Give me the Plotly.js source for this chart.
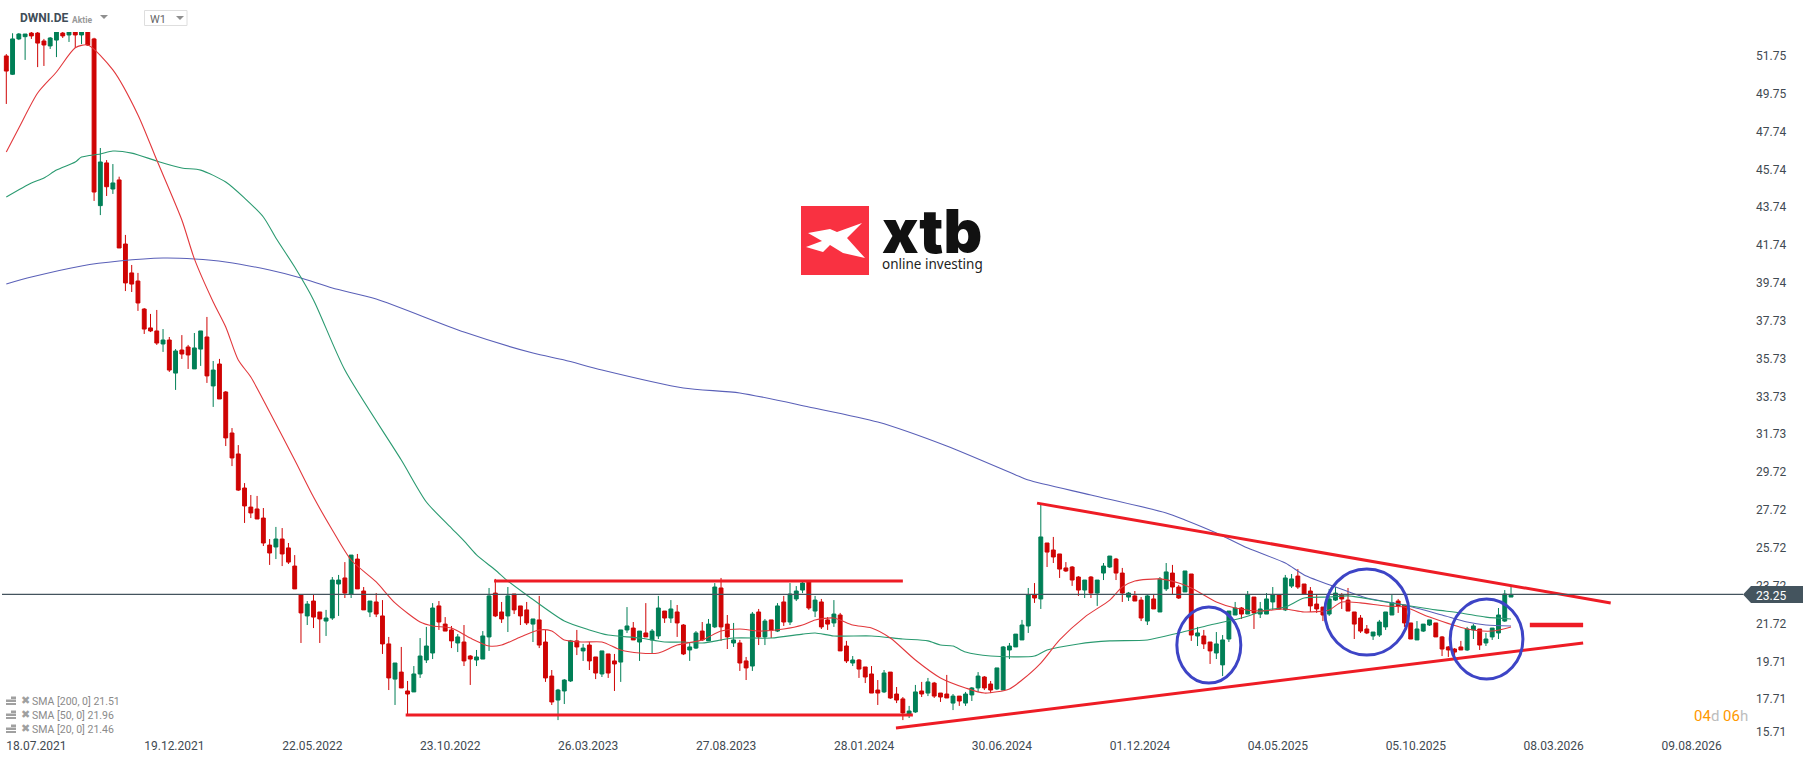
<!DOCTYPE html>
<html>
<head>
<meta charset="utf-8">
<script src="https://cdn.plot.ly/plotly-3.0.1.min.js"></script>
<style>
  html, body { margin: 0; padding: 0; background: #fff; }
  #chart { width: 1815px; height: 761px; }
</style>
</head>
<body>
<div id="chart"></div>
<script>
// weekly candles, one per week from firstWeek on
var firstWeek = Date.UTC(2021, 6, 18);
var lastPrice = 23.25;

var opens = [
  51.74,50.77,52.64,52.76,52.95,52.95,52.53,52.27,52.58,52.95,
  52.85,53.01,52.85,53.10,52.64,43.82,46.08,44.70,45.18,41.79,
  40.26,39.83,38.35,37.35,37.19,36.50,36.71,34.96,36.18,36.34,
  35.18,36.23,36.87,34.28,35.44,33.96,31.79,30.68,28.88,27.87,
  27.77,27.29,25.86,25.76,26.18,25.71,24.75,23.22,22.11,22.90,
  22.32,21.84,22.00,23.80,24.12,23.27,25.12,23.43,22.32,22.85,
  22.11,20.63,18.77,19.14,18.14,18.09,19.04,19.78,20.15,22.64,
  21.68,21.37,20.68,20.73,19.99,19.78,19.83,21.00,23.32,22.32,
  22.11,23.27,22.64,22.43,21.68,21.90,20.73,18.93,17.66,18.14,
  18.67,20.79,20.26,20.57,19.94,19.04,20.10,19.73,19.67,21.37,
  21.47,20.73,21.21,20.84,21.05,22.37,22.00,22.32,21.63,20.31,
  20.41,21.31,20.79,21.53,23.59,21.68,20.68,20.68,19.73,19.46,
  22.32,21.00,21.90,21.31,22.85,21.79,23.01,23.48,23.91,22.37,
  22.85,21.90,21.74,22.16,20.52,19.62,19.78,19.41,19.04,18.19,
  18.09,19.14,17.98,17.72,16.92,17.03,18.14,18.03,18.56,18.03,
  17.98,17.50,17.87,17.50,17.93,18.30,18.88,18.51,18.25,18.19,
  20.31,20.47,20.84,21.58,23.22,23.01,25.97,25.60,25.39,24.65,
  24.70,24.17,23.48,24.17,23.32,24.38,24.70,25.12,24.38,23.11,
  23.17,22.95,21.84,23.01,22.32,23.54,24.38,23.64,23.38,24.33,
  21.05,21.05,20.73,20.15,19.52,20.89,22.16,22.53,22.21,23.11,
  22.21,22.21,22.85,23.22,22.43,23.69,24.22,23.80,23.43,22.74,
  22.58,22.21,22.95,23.22,22.95,22.32,22.00,21.42,21.05,21.10,
  21.53,22.16,22.90,22.69,21.74,20.84,21.31,21.63,21.74,21.00,
  20.47,20.36,20.47,20.31,21.37,21.42,20.68,21.00,21.21,21.84,23.11
];
var highs = [
  51.84,52.94,52.95,52.90,53.10,53.10,52.64,52.74,53.20,53.10,
  53.20,53.20,53.20,53.30,52.70,46.87,46.23,46.02,45.35,42.27,
  40.68,40.26,38.40,38.09,38.30,37.29,36.87,36.23,36.97,36.45,
  37.08,37.19,37.93,35.60,35.71,34.01,32.05,31.15,29.14,28.51,
  28.46,27.82,26.18,26.82,26.76,25.97,25.33,23.25,22.90,23.22,
  22.32,22.43,24.17,24.28,24.96,25.33,25.39,23.64,22.90,23.32,
  22.95,21.00,19.62,20.47,18.67,19.46,20.94,21.53,22.79,22.90,
  22.05,21.58,21.15,21.63,20.04,20.31,21.31,23.59,24.07,22.85,
  23.64,23.27,22.64,22.85,21.95,23.17,21.37,19.25,18.25,18.77,
  20.84,21.37,20.63,20.73,19.94,20.26,20.10,20.10,21.37,22.58,
  21.79,21.31,22.79,21.42,23.17,22.37,22.95,22.69,21.68,20.68,
  21.31,21.79,21.95,23.85,24.12,22.16,21.74,20.84,19.94,22.32,
  22.48,21.95,21.90,22.79,23.17,23.85,23.69,23.96,23.96,23.17,
  23.01,22.05,22.95,22.27,20.79,19.99,19.83,19.41,19.46,18.72,
  19.25,19.14,18.35,17.82,17.35,18.46,18.62,18.83,18.62,18.03,
  18.99,17.98,17.87,18.09,18.35,19.14,18.93,18.67,19.36,20.52,
  20.68,21.15,21.90,23.59,23.85,27.98,25.97,26.29,25.39,24.96,
  24.75,24.22,24.01,24.22,24.01,24.91,25.28,25.18,24.65,23.38,
  23.43,23.11,23.22,23.22,24.17,24.91,24.81,23.75,24.49,24.33,
  21.53,21.37,20.73,21.26,21.10,22.37,22.85,22.58,23.43,23.11,
  22.85,23.32,23.64,23.22,24.28,24.33,24.59,23.80,23.64,23.27,
  22.58,23.54,23.64,23.32,23.59,22.32,22.16,21.63,21.26,21.90,
  22.32,23.22,23.01,22.69,21.74,21.84,21.68,21.90,21.74,21.05,
  20.52,20.41,20.79,21.53,21.68,21.42,21.21,21.47,22.53,23.48,23.64
];
var lows = [
  49.20,50.73,52.58,51.53,52.64,51.15,51.21,52.11,51.68,52.69,
  52.48,52.16,52.37,52.27,44.07,43.32,44.33,44.44,41.58,39.30,
  39.25,38.25,37.03,37.13,36.45,36.08,35.02,34.07,35.71,35.18,
  35.18,35.34,34.44,33.17,33.59,31.10,30.04,28.72,27.03,27.29,
  27.24,25.81,24.81,25.12,24.75,24.86,23.54,20.68,21.63,21.47,
  20.68,21.05,21.90,22.11,23.06,23.06,23.54,22.43,22.05,22.05,
  20.10,18.19,17.40,18.30,16.87,18.09,18.83,19.62,19.83,21.37,
  21.31,20.41,20.20,19.46,18.46,19.46,19.83,20.26,22.05,21.74,
  21.26,22.21,21.63,21.63,20.73,20.41,18.62,17.40,16.60,17.45,
  18.62,20.04,19.73,19.25,18.77,18.88,18.83,18.14,18.62,21.21,
  20.84,19.73,21.00,20.10,20.89,21.74,21.74,21.00,20.04,19.73,
  20.36,20.79,20.79,21.47,20.79,20.36,20.47,19.20,18.72,19.20,
  20.57,20.57,20.94,21.26,21.58,21.63,22.90,23.32,22.43,22.05,
  21.42,21.37,21.53,20.26,19.62,19.46,18.83,18.56,18.03,17.40,
  18.03,17.72,17.50,16.60,16.71,16.98,17.82,17.87,17.77,17.56,
  17.77,17.13,17.35,17.35,17.61,18.09,18.19,18.03,18.19,18.19,
  19.83,20.47,20.84,21.21,22.80,22.48,24.70,24.91,24.12,24.44,
  23.70,23.17,23.06,23.06,22.64,24.01,24.65,24.01,22.85,22.90,
  22.90,21.84,21.63,22.48,22.32,23.43,23.27,23.01,23.38,20.79,
  20.52,20.36,19.57,19.83,18.93,20.73,22.16,21.95,22.21,21.42,
  22.00,22.21,22.43,22.43,22.37,23.59,23.54,23.22,22.32,22.27,
  21.84,22.11,22.90,22.48,22.37,20.89,21.21,21.15,20.84,21.00,
  21.37,22.16,22.27,21.53,20.89,20.84,21.26,21.58,21.00,19.99,
  19.94,19.94,20.31,20.26,20.89,20.31,20.52,20.84,20.89,21.79,23.11
];
var closes = [
  50.94,52.64,52.90,52.90,52.80,52.42,52.32,52.69,53.01,52.80,
  53.01,52.85,53.01,52.32,44.54,46.13,44.82,45.02,41.58,39.73,
  39.67,38.67,37.29,37.19,36.55,36.71,35.12,36.13,35.97,35.92,
  36.29,37.19,34.81,35.12,33.59,31.53,30.47,28.77,27.93,27.56,
  27.24,25.97,25.44,26.18,25.39,24.96,23.54,22.27,22.74,22.05,
  21.95,22.00,24.01,24.01,23.32,25.33,23.54,22.43,22.90,22.21,
  20.63,18.83,19.62,18.30,17.98,19.04,19.99,20.52,22.53,21.79,
  21.31,20.79,21.00,19.73,19.83,19.94,21.05,23.17,22.11,21.95,
  23.17,22.43,22.11,21.74,21.95,20.57,18.83,17.56,18.19,18.72,
  20.79,20.47,20.41,19.73,19.09,20.26,19.09,19.57,21.37,21.58,
  20.84,21.31,21.00,21.31,22.53,22.00,22.48,21.74,20.10,20.47,
  21.21,20.84,21.68,23.64,21.53,21.00,20.84,19.62,19.36,22.21,
  21.00,21.84,21.37,22.64,21.79,23.27,23.43,23.85,22.53,22.95,
  21.53,21.68,22.21,20.26,19.73,19.78,19.30,18.88,18.03,18.03,
  19.09,17.77,17.66,16.98,17.08,18.09,17.98,18.62,17.87,17.82,
  17.77,17.87,17.61,17.98,18.30,18.93,18.30,18.19,19.36,20.47,
  20.52,21.15,21.63,23.22,23.06,26.29,25.49,25.23,24.59,24.49,
  24.01,23.48,24.01,23.32,24.01,24.75,25.28,24.38,23.32,23.32,
  22.90,22.00,23.17,22.48,24.07,24.44,23.64,23.06,24.49,21.10,
  21.21,20.63,20.26,20.63,20.84,22.37,22.53,22.21,23.22,22.27,
  22.48,23.01,23.22,22.48,24.12,24.07,23.64,23.27,22.64,22.48,
  22.16,23.01,23.32,23.01,22.37,21.68,21.31,21.21,21.26,21.79,
  22.32,22.80,22.64,21.74,20.89,21.42,21.68,21.90,21.00,20.36,
  20.31,20.20,20.31,21.42,21.58,20.57,20.89,21.47,22.16,23.27,23.25
];

// moving averages, read at the weeks listed
var sma20Weeks = [0,2,5,8,11,13,17,21,24,28,30,33,35,37,39,42,46,49,52,55,59,62,66,68,71,74,77,79,82,85,87,89,92,95,98,101,104,107,111,114,117,120,124,127,129,132,135,138,141,145,149,153,156,160,162,165,168,172,176,178,180,184,187,189,193,196,200,204,207,211,213,216,220,223,227,233,237,240];
var sma20Values = [46.66,47.93,49.78,50.89,52.17,52.32,51.00,48.62,46.23,43.06,41.00,38.72,37.40,35.65,34.75,32.90,30.36,28.40,26.66,25.07,23.91,22.80,21.79,21.58,21.47,20.94,20.52,20.57,21.00,21.37,21.31,20.84,20.73,20.73,20.31,20.15,20.15,20.57,20.84,21.31,21.42,21.31,21.42,21.63,21.90,22.00,21.63,21.47,20.94,19.78,18.83,18.30,18.03,18.25,18.72,19.62,20.84,22.05,22.95,23.64,23.96,24.07,23.85,23.59,22.85,22.53,22.37,22.48,22.32,22.43,22.85,22.80,22.64,22.58,22.05,21.42,21.31,21.53];

var sma50Weeks = [0,4,6,8,11,12,15,17,20,24,28,31,35,38,41,43,46,49,54,63,67,71,73,75,78,80,83,89,93,96,101,105,108,111,116,122,127,129,132,138,143,147,149,151,153,157,164,166,171,176,182,187,192,197,201,204,207,211,214,220,225,228,232,236,240];
var sma50Values = [44.28,45.02,45.28,45.70,46.13,46.39,46.55,46.71,46.60,46.18,45.81,45.70,45.07,44.22,43.22,42.11,40.57,38.83,35.12,30.36,28.14,26.76,26.08,25.34,24.54,23.96,23.22,21.84,21.37,21.10,20.94,20.73,20.73,20.68,20.94,20.94,21.15,21.21,21.05,21.05,20.89,20.79,20.57,20.52,20.20,19.99,19.99,20.31,20.63,20.79,20.84,21.21,21.63,22.00,22.43,22.58,23.06,23.11,23.17,22.85,22.58,22.43,22.27,22.05,21.95];

var sma200Weeks = [0,4,12,18,25,30,35,42,47,52,59,73,84,89,95,108,117,128,139,150,161,163,173,185,188,193,198,204,207,212,217,223,229,233,236,240];
var sma200Values = [39.67,40.04,40.63,40.89,41.05,41.00,40.84,40.41,39.99,39.46,38.88,37.13,36.02,35.65,35.12,34.17,33.91,33.17,32.37,31.10,29.57,29.30,28.51,27.56,27.19,26.50,25.70,24.91,24.28,23.64,23.06,22.69,22.16,21.79,21.63,21.58];

// drawn trend lines and circles: week number and price
var rangeTopWeeks = [77.8,143], rangeTopPrices = [23.96,23.96];
var rangeBottomWeeks = [63.7,144.6], rangeBottomPrices = [16.87,16.87];
var risingWeeks = [141.9,251.5], risingPrices = [16.18,20.68];
var fallingWeeks = [164.4,255.9], fallingPrices = [28.08,22.80];
var flatWeeks = [243,251.5], flatPrices = [21.63,21.63];
var circleWeeks = [[186.7,196.9],[210.3,223.7],[230.3,241.9]];
var circlePrices = [[22.58,18.56],[24.59,20.04],[23.01,18.77]];

var priceTicks = ['51.75','49.75','47.74','45.74','43.74','41.74','39.74','37.73','35.73','33.73','31.73','29.72','27.72','25.72','23.72','21.72','19.71','17.71'];
var labelWeeks = [0,22,44,66,88,110,132,154,176,198,220,242,264];
var smaLabels = ['SMA [200, 0] 21.51','SMA [50, 0] 21.96','SMA [20, 0] 21.46'];

var UP = '#007f56', DOWN = '#cf0404', DRAWN = '#ee1c25', CIRCLE = '#3d44c6', SLATE = '#44545e', TEXT = '#3f4a52';

// page geometry
var W = 1815, H = 761, M = {l: 2, r: 72, t: 32, b: 24};
function px(x) { return (x - M.l) / (W - M.l - M.r); }
function py(y) { return 1 - (y - M.t) / (H - M.t - M.b); }
function poly(points) {
    return points.map(function(p, i) {
        return (i ? 'L' : 'M') + px(p[0]) + ',' + py(p[1]);
    }).join(' ') + ' Z';
}
function weekDate(k) {
    return new Date(firstWeek + k * 7 * 86400000).toISOString();
}
function label(x, y, text, size, color, extra) {
    var a = {xref: 'paper', yref: 'paper', x: px(x), y: py(y), text: text, showarrow: false,
        xanchor: 'left', yanchor: 'middle', borderpad: 0, font: {family: 'Roboto', size: size, color: color}};
    for (var key in extra) {
        if (key === 'font') {
            for (var f in extra.font) a.font[f] = extra.font[f];
        } else {
            a[key] = extra[key];
        }
    }
    return a;
}

var weeks = opens.map(function(o, i) { return weekDate(i); });

function smaTrace(ks, values, color) {
    return {
        type: 'scatter', mode: 'lines', hoverinfo: 'skip',
        x: ks.map(weekDate), y: values,
        line: {color: color, width: 1.1, shape: 'spline', smoothing: 0.7}
    };
}
function drawnTrace(ks, prices, width) {
    return {
        type: 'scatter', mode: 'lines', hoverinfo: 'skip',
        x: ks.map(weekDate), y: prices,
        line: {color: DRAWN, width: width}
    };
}

var data = [
    {
        type: 'candlestick', hoverinfo: 'skip', x: weeks,
        open: opens, high: highs, low: lows, close: closes,
        whiskerwidth: 0,
        increasing: {line: {color: UP, width: 1}, fillcolor: UP},
        decreasing: {line: {color: DOWN, width: 1}, fillcolor: DOWN}
    },
    smaTrace(sma200Weeks, sma200Values, '#5a60b8'),
    smaTrace(sma50Weeks, sma50Values, '#2a9a70'),
    smaTrace(sma20Weeks, sma20Values, '#e2383c'),
    drawnTrace(rangeTopWeeks, rangeTopPrices, 3),
    drawnTrace(rangeBottomWeeks, rangeBottomPrices, 3),
    drawnTrace(risingWeeks, risingPrices, 3),
    drawnTrace(fallingWeeks, fallingPrices, 3),
    drawnTrace(flatWeeks, flatPrices, 4.5)
];

var shapes = [
    // last price line and its tag
    {type: 'line', xref: 'paper', yref: 'y', x0: 0, x1: 1, y0: lastPrice, y1: lastPrice, line: {color: SLATE, width: 1.2}},
    {type: 'path', xref: 'paper', yref: 'y', xsizemode: 'pixel', ysizemode: 'pixel', xanchor: 1, yanchor: lastPrice,
        path: 'M0,0 L8,-8.5 L60,-8.5 L60,8.5 L8,8.5 Z', fillcolor: SLATE, line: {width: 0}},
    // logo
    {type: 'rect', xref: 'paper', yref: 'paper', x0: px(801), x1: px(869), y0: py(275), y1: py(206), fillcolor: '#f93141', line: {width: 0}},
    {type: 'path', xref: 'paper', yref: 'paper', fillcolor: '#fff', line: {width: 0},
        path: poly([[808,233],[830,229],[837,232],[862,223],[847,238],[865,258],[843,253],[830,245],[823,252],[806,247],[822,241]])},
    // symbol header
    {type: 'path', xref: 'paper', yref: 'paper', fillcolor: '#8f8f8f', line: {width: 0}, path: poly([[100,15],[108,15],[104,19]])},
    {type: 'rect', xref: 'paper', yref: 'paper', x0: px(144.5), x1: px(187), y0: py(25.5), y1: py(10.5), fillcolor: '#fff', line: {color: '#dedede', width: 1}},
    {type: 'path', xref: 'paper', yref: 'paper', fillcolor: '#8f8f8f', line: {width: 0}, path: poly([[176,16],[184,16],[180,20]])}
];

circleWeeks.forEach(function(ks, i) {
    shapes.push({
        type: 'circle', xref: 'x', yref: 'y',
        x0: weekDate(ks[0]), x1: weekDate(ks[1]),
        y0: circlePrices[i][1], y1: circlePrices[i][0],
        line: {color: CIRCLE, width: 3}
    });
});

var annotations = [
    label(19, 18.5, '<b>DWNI.DE</b>', 12, '#3f4d58'),
    label(71, 19.5, '<b>Aktie</b>', 8.5, '#999999'),
    label(149, 19, 'W1', 11, '#666666'),
    label(881, 231, 'xtb', 60, '#111111', {font: {family: 'Inter', weight: 900}}),
    label(881, 264, 'online investing', 13.5, '#222222', {font: {family: 'Noto Sans'}}),
    label(1755, 731.5, '15.71', 12, TEXT),
    label(1755, 595.5, String(lastPrice), 12, '#ffffff'),
    label(1693, 716, '<span style="color:#ff9800">04</span>d <span style="color:#ff9800">06</span>h', 15, '#bdbdbd')
];

smaLabels.forEach(function(text, i) {
    var y = 701.5 + i * 14;
    annotations.push(label(31, y, text, 10.5, '#8a8a8a'));
    annotations.push(label(20, y - 1, '✖', 11, '#a0a0a0', {font: {family: 'DejaVu Sans'}}));
    shapes.push({type: 'rect', xref: 'paper', yref: 'paper', x0: px(11), x1: px(16), y0: py(y - 2.5), y1: py(y - 5), fillcolor: '#a0a0a0', line: {width: 0}});
    shapes.push({type: 'rect', xref: 'paper', yref: 'paper', x0: px(6), x1: px(16), y0: py(y + 0.5), y1: py(y - 2), fillcolor: '#a0a0a0', line: {width: 0}});
    shapes.push({type: 'rect', xref: 'paper', yref: 'paper', x0: px(6), x1: px(16), y0: py(y + 3.5), y1: py(y + 1.5), fillcolor: '#a0a0a0', line: {width: 0}});
});

var layout = {
    width: W, height: H,
    margin: M,
    paper_bgcolor: '#fff', plot_bgcolor: '#fff',
    showlegend: false,
    boxgap: 0.12,
    shapes: shapes,
    annotations: annotations,
    font: {family: 'Roboto', size: 12, color: TEXT},
    xaxis: {
        type: 'date',
        range: [weekDate((M.l - 6.3) / 6.27), weekDate(277)],
        rangeslider: {visible: false},
        tickmode: 'array',
        tickvals: labelWeeks.map(weekDate),
        ticktext: labelWeeks.map(function(k) {
            var d = new Date(firstWeek + k * 7 * 86400000);
            return ('0' + d.getUTCDate()).slice(-2) + '.' + ('0' + (d.getUTCMonth() + 1)).slice(-2) + '.' + d.getUTCFullYear();
        }),
        ticklabelposition: 'outside right',
        ticklabeloverflow: 'allow',
        ticks: '', showgrid: false, zeroline: false, showline: false,
        tickfont: {family: 'Roboto', size: 12, color: TEXT},
        automargin: false
    },
    yaxis: {
        side: 'right',
        range: [54.70 - 737 / 18.9, 54.70 - 32 / 18.9],
        tickmode: 'array',
        tickvals: priceTicks.map(Number),
        ticktext: priceTicks,
        ticks: '', showgrid: false, zeroline: false, showline: false,
        ticklabelstandoff: 12,
        tickfont: {family: 'Roboto', size: 12, color: TEXT},
        automargin: false
    }
};

Plotly.newPlot('chart', data, layout, {displayModeBar: false, responsive: false});
</script>
</body>
</html>
